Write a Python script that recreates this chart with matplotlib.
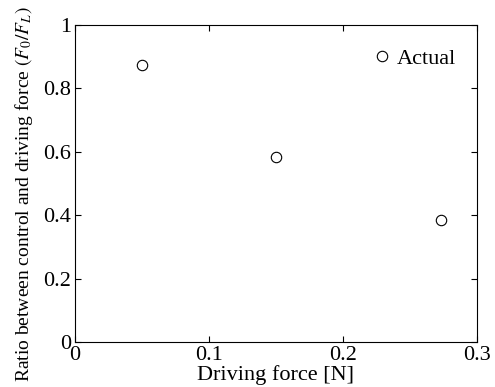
import numpy as np
import matplotlib.pyplot as plt

plt.rcParams['font.family'] = ['Liberation Serif', 'DejaVu Serif']
plt.rcParams['mathtext.fontset'] = 'stix'

# data
force = [0.05, 0.15, 0.273]
ratio = [0.874, 0.584, 0.384]
xticks = [0, 0.1, 0.2, 0.3]
yticks = [0, 0.2, 0.4, 0.6, 0.8, 1]

fig = plt.figure(figsize=(4.95, 3.87), dpi=100)
ax = fig.add_axes([0.1515, 0.1163, 0.8121, 0.8191])

ax.plot(force, ratio, linestyle='none', marker='o', markersize=7.5,
        markerfacecolor='white', markeredgecolor='black', markeredgewidth=0.8,
        label='Actual')

ax.set_xlim(0, 0.3)
ax.set_ylim(0, 1)
ax.set_xticks(xticks)
ax.set_yticks(yticks)
ax.set_xticklabels(['0', '0.1', '0.2', '0.3'])
ax.set_yticklabels(['0', '0.2', '0.4', '0.6', '0.8', '1'])
ax.tick_params(direction='in', length=4, width=0.8, labelsize=16,
               top=True, right=True)
ax.tick_params(axis='x', pad=3)
ax.tick_params(axis='y', pad=3)
for s in ax.spines.values():
    s.set_linewidth(0.8)

ax.set_xlabel('Driving force [N]', fontsize=16, labelpad=0)
ax.set_ylabel('Ratio between control and driving force $(F_0/F_L)$', fontsize=14)
ax.yaxis.set_label_coords(-0.10, 0.465)

ax.legend(loc='upper right', bbox_to_anchor=(0.96, 0.94), frameon=False,
          fontsize=16, handletextpad=0.2, borderaxespad=0, borderpad=0.2,
          handlelength=1.0)

fig.savefig('out.png', dpi=100)
